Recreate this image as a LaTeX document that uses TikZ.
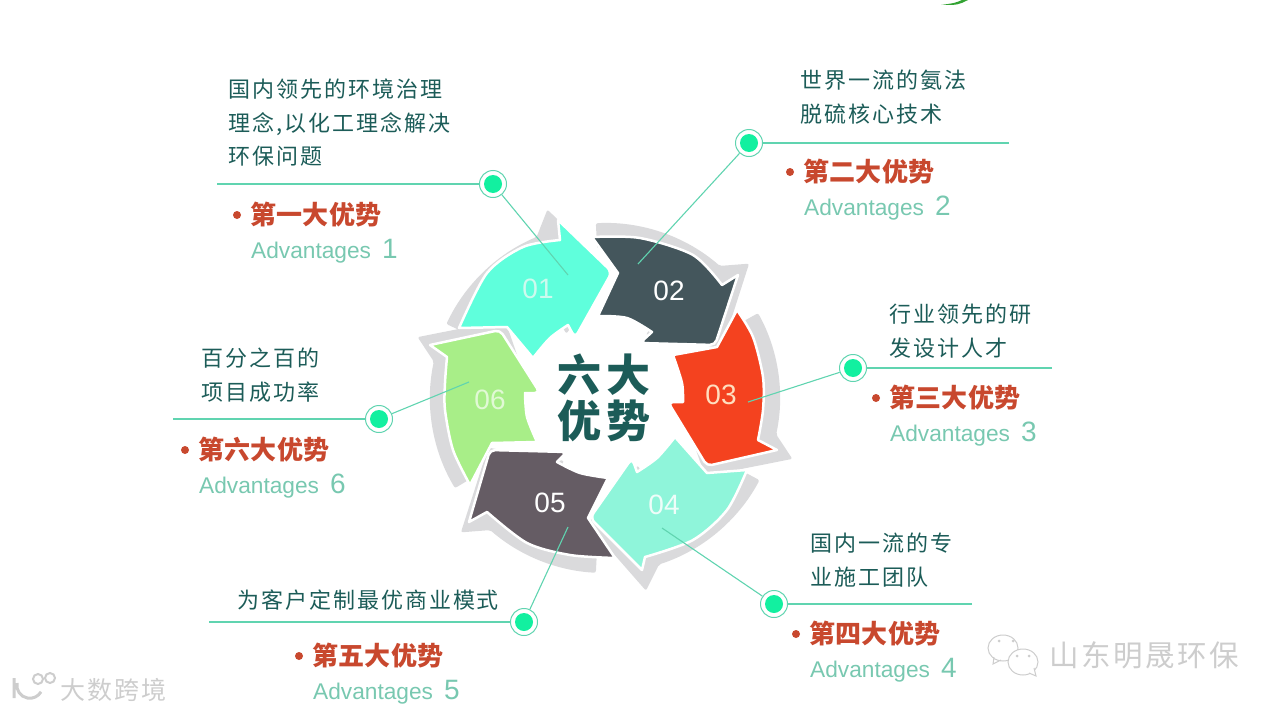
\documentclass[tikz,border=0pt]{standalone}
\usepackage{xcolor}
\usepackage{fontspec}
\setmainfont{Liberation Sans}
\newfontfamily\cjk[LetterSpace=9]{Noto Sans CJK SC}
\newfontfamily\cjkhead[LetterSpace=1.5]{Noto Sans CJK SC}
\newfontfamily\cjktitle[LetterSpace=13]{Noto Sans CJK SC}
\usetikzlibrary{arrows.meta,positioning}
\definecolor{primary}{RGB}{28,92,88}
\definecolor{headred}{RGB}{200,72,46}
\definecolor{advgreen}{RGB}{120,200,176}
\definecolor{linegreen}{RGB}{96,212,176}
\definecolor{dotgreen}{RGB}{18,240,160}
\definecolor{ringgray}{RGB}{218,218,220}
\definecolor{markgray}{RGB}{205,205,205}
\definecolor{arrowa}{RGB}{95,255,220}
\definecolor{arrowb}{RGB}{68,86,92}
\definecolor{arrowc}{RGB}{244,66,31}
\definecolor{arrowd}{RGB}{143,245,218}
\definecolor{arrowe}{RGB}{101,92,100}
\definecolor{arrowf}{RGB}{168,238,136}
\tikzset{
  bendarrow/.style={draw=white, line width=2.5pt, line join=round},
  desc/.style={anchor=north west, inner sep=0pt, align=left, text=primary,
               font=\cjk\fontsize{22}{33.5}\selectfont},
  headtxt/.style={anchor=base west, inner sep=0pt, text=headred,
                  font=\cjkhead\bfseries\fontsize{26}{28}\selectfont},
  advtxt/.style={anchor=base west, inner sep=0pt, text=advgreen,
                 font=\fontsize{22.7}{28}\selectfont},
  numtxt/.style={inner sep=0pt, font=\fontsize{28}{28}\selectfont},
  bullet/.style={circle, fill=headred, inner sep=0pt, minimum size=8pt},
  ring/.style={circle, draw=linegreen, fill=white, line width=1pt,
               inner sep=0pt, minimum size=27pt},
  dotin/.style={circle, fill=dotgreen, inner sep=0pt, minimum size=18pt},
  leader/.style={draw=linegreen, line width=1.1pt},
  wmark/.style={anchor=base west, inner sep=0pt, text=markgray},
}
\begin{document}
\begin{tikzpicture}[x=1pt,y=-1pt]
  \useasboundingbox (0,0) rectangle (1280,712);
  % grey ring pieces behind the arrows
  \begin{scope}[shift={(605,398)},x=1pt,y=1pt]
    \foreach \s/\e in {93/43, 29/-18, -28/-78, -93/-137, -149/-198, 155/107} {
      \fill[ringgray,rounded corners=2pt] (\s:150pt) -- (\s:175pt)
        arc[start angle=\s, end angle={\e+6}, radius=175pt]
        -- (\e:197pt) -- ({\e-20}:127pt) -- ({\e+14}:75pt) -- ({\e+14}:105pt)
        -- ({\e+6}:150pt) arc[start angle={\e+6}, end angle=\s, radius=150pt] -- cycle;
    }
  \end{scope}
  % six bent arrows
  \path[bendarrow,fill=arrowa] plot[smooth] coordinates {(459,328) (487,273) (523,247) (560,240)} -- (558,220)
    [rounded corners=6pt] -- (612,272) -- (575,338) [sharp corners] -- (568,325) -- plot[smooth] coordinates {(568,325) (550,338) (533,358)} -- (507,327) -- cycle;
  \path[bendarrow,fill=arrowb] plot[smooth] coordinates {(592,237) (640,238) (693,255) (722,285)} -- (738,275)
    [rounded corners=5pt] -- (715,345) -- (640,343) [sharp corners] -- (652,332) -- plot[smooth] coordinates {(652,332) (627,318) (598,316)} -- (618,273) -- cycle;
  \path[bendarrow,fill=arrowc] plot[smooth] coordinates {(737,310) (753,337) (763,377) (763,410) (758,440)} -- (777,450)
    [rounded corners=5pt] -- (707,466) -- (668,402) [sharp corners] -- (683,402) -- plot[smooth] coordinates {(683,402) (682,383) (673,355)} -- (717,347) -- cycle;
  \path[bendarrow,fill=arrowd] plot[smooth] coordinates {(747,470) (727,510) (693,540) (645,557)} -- (642,570)
    [rounded corners=6pt] -- (590,518) -- (632,458) [sharp corners] -- (637,472) -- plot[smooth] coordinates {(637,472) (657,458) (675,437)} -- (707,473) -- cycle;
  \path[bendarrow,fill=arrowe] plot[smooth] coordinates {(615,558) (570,555) (527,543) (487,512)} -- (469,522)
    [rounded corners=5pt] -- (490,450) -- (567,452) [sharp corners] -- (557,462) -- plot[smooth] coordinates {(557,462) (580,473) (608,478)} -- (588,518) -- cycle;
  \path[bendarrow,fill=arrowf] plot[smooth] coordinates {(470,485) (453,450) (445,410) (445,383) (447,357)} -- (430,345)
    [rounded corners=5pt] -- (500,330) -- (540,393) [sharp corners] -- (525,393) -- plot[smooth] coordinates {(525,393) (527,417) (537,442)} -- (492,443) -- cycle;
  % numbers and centre title
  \node[numtxt,text=arrowd!45!white] (num1) at (538,289) {01};
  \node[numtxt,text=white] (num2) at (669,291) {02};
  \node[numtxt,text=orange!25!white] (num3) at (721,395) {03};
  \node[numtxt,text=white!85!arrowd] (num4) at (664,505) {04};
  \node[numtxt,text=white] (num5) at (550,503) {05};
  \node[numtxt,text=arrowf!35!white] (num6) at (490,400) {06};
  \node[inner sep=0pt,align=center,text=primary,font=\cjktitle\bfseries\fontsize{44}{46}\selectfont] (title) at (604,398) {六大\\优势};
  % description, rule, dot and leader of each advantage
  \foreach \n/\dx/\dy/\ex/\tx/\ty/\lx/\ly/\t in {
      1/493/184/217/568/275/228/79/{国内领先的环境治理\\理念,以化工理念解决\\环保问题},
      2/749/143/1009/638/264/800/70/{世界一流的氨法\\脱硫核心技术},
      3/853/368/1052/748/402/889/304/{行业领先的研\\发设计人才},
      4/774/604/972/662/528/810/533/{国内一流的专\\业施工团队},
      5/524/622/209/568/527/237/590/{为客户定制最优商业模式},
      6/379/419/173/469/382/201/348/{百分之百的\\项目成功率}} {
    \node[desc] (desc\n) at (\lx,\ly) {\t};
    \coordinate (end\n) at (\ex,\dy);
    \coordinate (tip\n) at (\tx,\ty);
    \node[ring] (ring\n) at (\dx,\dy) {};
    \node[dotin] (dot\n) at (\dx,\dy) {};
    \draw[leader] (end\n) -- (ring\n);
    \draw[leader] (ring\n) -- (tip\n);
  }
  % headings
  \foreach \n/\m/\bx/\by in {1/一/237/215, 2/二/790/172, 3/三/876/398, 4/四/796/634, 5/五/299/656, 6/六/185/450} {
    \node[bullet] (bul\n) at (\bx,\by) {};
    \node[headtxt] (head\n) at ({\bx+13},{\by+9}) {第\m 大优势};
    \node[advtxt] (adv\n) at ({\bx+14},{\by+43}) {Advantages {\fontsize{28}{28}\selectfont\,\n}};
  }
  % watermarks
  \node[wmark,font=\cjk\fontsize{29.5}{30}\selectfont] (markr) at (1049,666) {山东明晟环保};
  \node[wmark,font=\cjk\fontsize{25}{26}\selectfont] (markl) at (60,699) {大数跨境};
  \draw[markgray,line width=1pt,fill=white] (994,657) -- (993,664) -- (1001,660) (1003,648) ellipse (15 and 13);
  \draw[markgray,line width=1pt,fill=white] (1023,662) ellipse (15 and 13);
  \draw[markgray,line width=1pt,fill=white] (1029,673) -- (1036,676) -- (1034,668);
  \fill[markgray] (999,641) circle (1.5) (1013,641) circle (1.5) (1017,656) circle (1.5) (1029,656) circle (1.5);
  \draw[markgray,line width=3pt] (14,678) -- (14,698) (17,683) arc[start angle=170, end angle=330, radius=13pt];
  \draw[markgray,line width=2pt] (38,679) circle (5) (50,678) circle (5);
  \fill[green!55!black!80] (941,5) .. controls (955,3) .. (962,0) -- (968,0) .. controls (958,5) .. (941,5);
\end{tikzpicture}
\end{document}
